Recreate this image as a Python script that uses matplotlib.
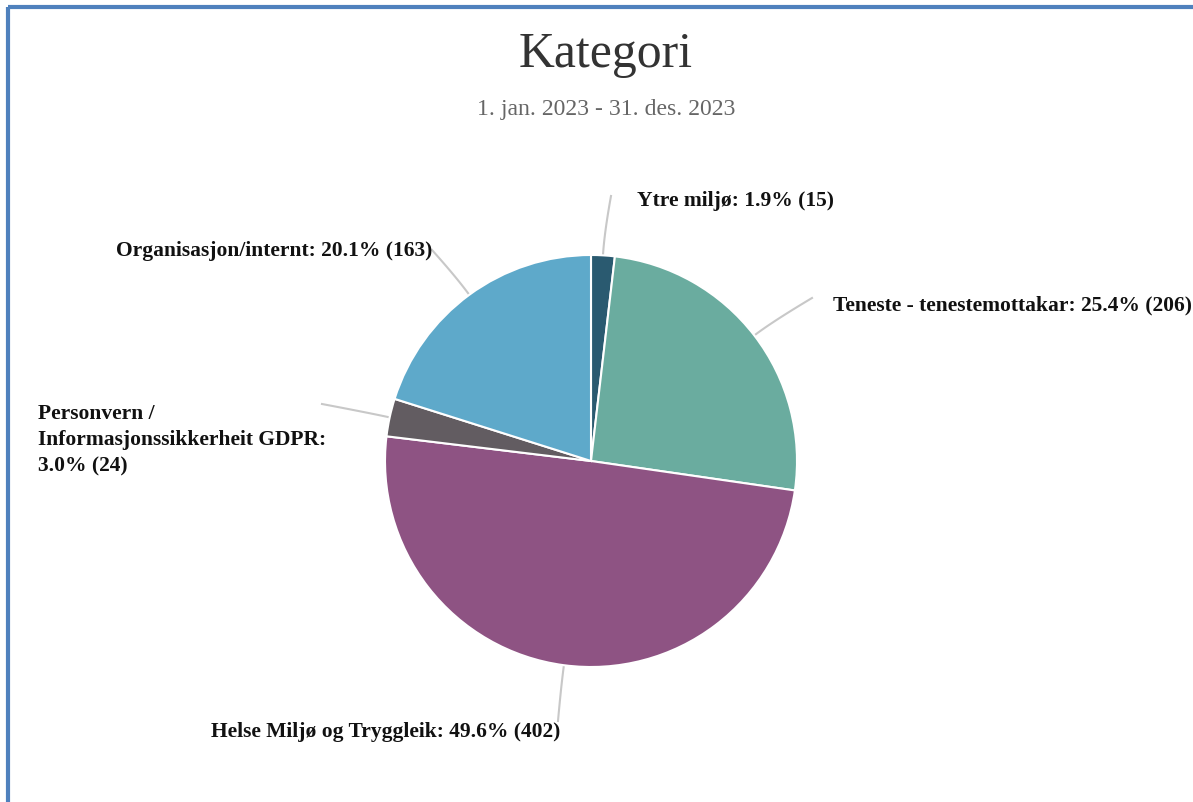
import numpy as np
import matplotlib
matplotlib.use("Agg")
import matplotlib.pyplot as plt

# data, clockwise from the top
kategoriar = ["Ytre miljø", "Teneste - tenestemottakar", "Helse Miljø og Tryggleik",
              "Personvern /\nInformasjonssikkerheit GDPR:", "Organisasjon/internt"]
tal = [15, 206, 402, 24, 163]
fargar = ["#2a5a70", "#6aac9f", "#8e5383", "#625c61", "#5ea9ca"]

W, H = 1193, 803
fig = plt.figure(figsize=(W / 100, H / 100), dpi=100)
ax = fig.add_axes([0, 0, 1, 1])
ax.set_xlim(0, W)
ax.set_ylim(0, H)
ax.set_aspect("equal")
ax.axis("off")

def Y(py):
    return H - py

# frame (only top and left visible in the screenshot)
ax.plot([8, 8], [Y(8), Y(H + 5)], color="#4f81bd", lw=3, solid_capstyle="butt")
ax.plot([8, W + 5], [Y(8), Y(8)], color="#4f81bd", lw=3, solid_capstyle="butt")

cx, cy, r = 591, Y(462), 206
wedges, _ = ax.pie(tal, colors=fargar, startangle=90, counterclock=False,
                   center=(cx, cy), radius=r,
                   wedgeprops=dict(edgecolor="white", linewidth=1.5))
ax.set_xlim(0, W)
ax.set_ylim(0, H)

total = sum(tal)
font = dict(family=["Liberation Serif", "DejaVu Serif"], fontweight="bold", fontsize=15.5, color="#111111")

# label positions (pixel coords) and connector ends
oppsett = [
    # (text x, text y, ha, connector end x, end y)
    (637, 201, "left", 611, 197),
    (833, 305, "left", 812, 299),
    (560, 732, "right", 558, 722),
    (38, 440, "left", 322, 405),
    (432, 251, "right", 432, 251),
]

for w, namn, n, (tx, ty, ha, ex, ey) in zip(wedges, kategoriar, tal, oppsett):
    mid = np.deg2rad((w.theta1 + w.theta2) / 2)
    sx, sy = cx + r * np.cos(mid), cy + r * np.sin(mid)
    mx, my = cx + (r + 22) * np.cos(mid), cy + (r + 22) * np.sin(mid)
    ex2, ey2 = ex, Y(ey)
    t = np.linspace(0, 1, 30)
    bx = (1 - t) ** 2 * sx + 2 * (1 - t) * t * mx + t ** 2 * ex2
    by = (1 - t) ** 2 * sy + 2 * (1 - t) * t * my + t ** 2 * ey2
    ax.plot(bx, by, color="#c8c8c8", lw=1.5, zorder=0)
    pst = 100 * n / total
    if namn.endswith(":"):
        tekst = f"{namn}\n{pst:.1f}% ({n})"
    else:
        tekst = f"{namn}: {pst:.1f}% ({n})"
    ax.text(tx, Y(ty), tekst, ha=ha, va="center", linespacing=1.43, clip_on=False, **font)

ax.text(606, Y(55), "Kategori", ha="center", va="center", fontsize=35.8,
        family=["Liberation Serif"], color="#333333")
ax.text(606, Y(109), "1. jan. 2023 - 31. des. 2023", ha="center", va="center",
        fontsize=17.1, family=["Liberation Serif"], color="#666666")

fig.savefig("out.png", dpi=100, facecolor="white")
